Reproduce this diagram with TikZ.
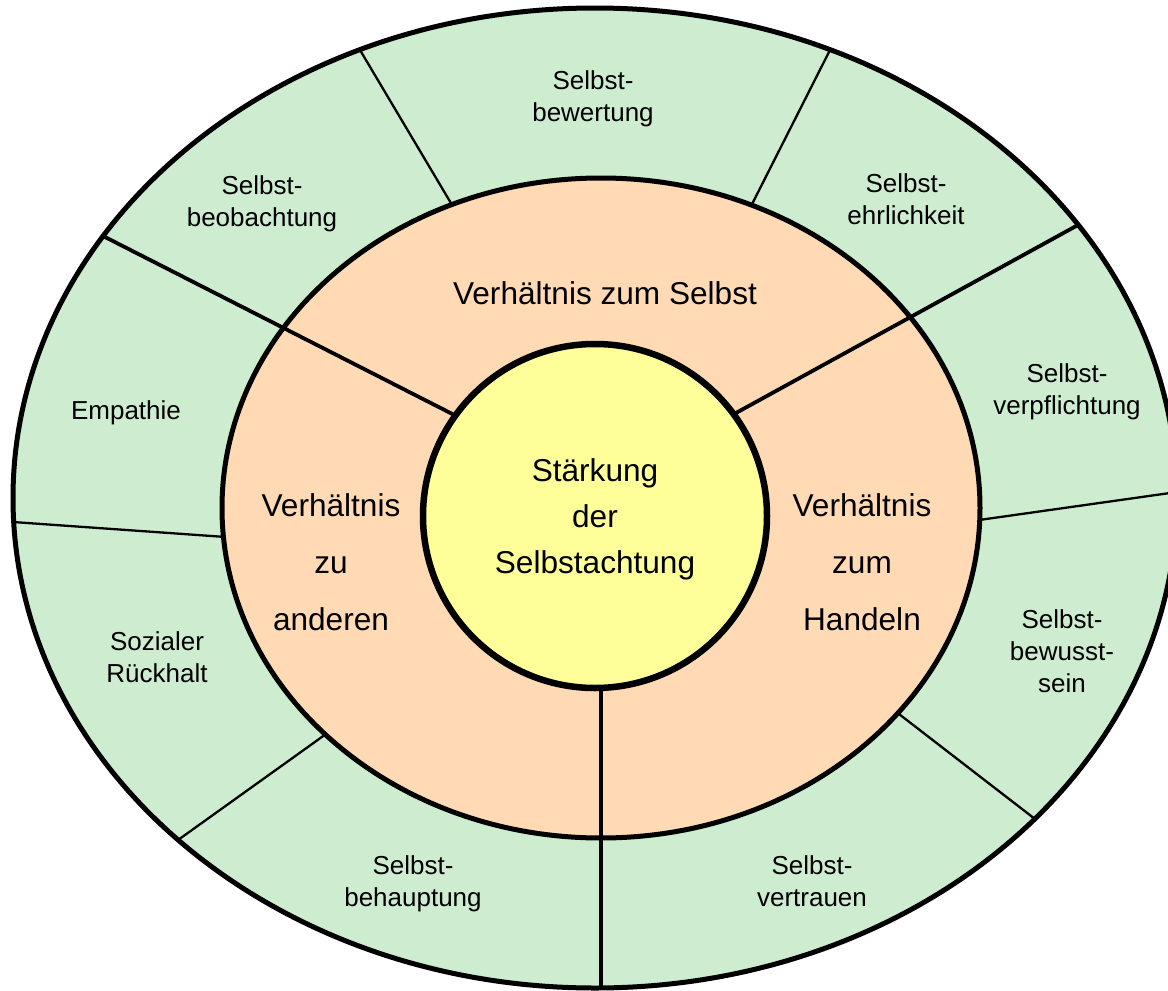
\documentclass[tikz,border=0pt]{standalone}
\usepackage{fontspec}
\setmainfont{Liberation Sans}
\definecolor{ringgreen}{RGB}{206,237,208}
\definecolor{ringpeach}{RGB}{255,218,181}
\definecolor{coreyellow}{RGB}{255,255,153}
\tikzset{
  smalltext/.style={font=\fontsize{26}{32}\selectfont, align=center, inner sep=0pt},
  bigtext/.style={font=\fontsize{31.6}{57}\selectfont, align=center, inner sep=0pt},
  coretext/.style={font=\fontsize{31.6}{46}\selectfont, align=center, inner sep=0pt},
  thindiv/.style={line width=2.3pt},
  thickdiv/.style={line width=3.8pt},
}
\begin{document}
\begin{tikzpicture}[x=1pt,y=-1pt]
  \useasboundingbox (0,0) rectangle (1168,991);
  \fill[white] (0,0) rectangle (1168,991);

  % outer ring
  \fill[ringgreen] (595,498) ellipse [x radius=582, y radius=490];

  % dividers of the outer ring
  \coordinate (o1) at (360,50);    \coordinate (i1) at (461,220);
  \coordinate (o2) at (830,50);    \coordinate (i2) at (745,218);
  \coordinate (o3) at (13,522);    \coordinate (i3) at (240,538);
  \coordinate (o4) at (178,840);   \coordinate (i4) at (340,724);
  \coordinate (o5) at (1035,819);  \coordinate (i5) at (886,704);
  \coordinate (o6) at (1177,492);  \coordinate (i6) at (965,522);
  \foreach \k in {1,...,6} \draw[thindiv] (o\k) -- (i\k);

  % middle ring
  \fill[ringpeach] (601,508) ellipse [x radius=379, y radius=330];

  % main spokes through both rings
  \coordinate (sl) at (105,237);   \coordinate (cl) at (472,424);
  \coordinate (sr) at (1078,225);  \coordinate (cr) at (725,419);
  \coordinate (sb) at (601,990);   \coordinate (cb) at (601,670);
  \draw[thickdiv] (sl) -- (cl);
  \draw[thickdiv] (sr) -- (cr);
  \draw[thickdiv] (sb) -- (cb);

  \draw[line width=5pt] (601,508) ellipse [x radius=379, y radius=330];
  \draw[line width=5pt] (595,498) ellipse [x radius=582, y radius=490];

  % core
  \filldraw[fill=coreyellow, draw=black, line width=6.5pt] (595,516) circle [radius=172];

  % labels of the outer ring
  \node[smalltext] (bewertung) at (593,99) {Selbst-\\bewertung};
  \node[smalltext] (beobachtung) at (262,204) {Selbst-\\beobachtung};
  \node[smalltext] (ehrlichkeit) at (906,199) {Selbst-\\ehrlichkeit};
  \node[smalltext] (empathie) at (126,413) {Empathie};
  \node[smalltext] (verpflichtung) at (1067,392) {Selbst-\\verpflichtung};
  \node[smalltext] (rueckhalt) at (157,657) {Sozialer\\Rückhalt};
  \node[smalltext] (bewusstsein) at (1062,651) {Selbst-\\bewusst-\\sein};
  \node[smalltext] (behauptung) at (413,884) {Selbst-\\behauptung};
  \node[smalltext] (vertrauen) at (812,881) {Selbst-\\vertrauen};

  % labels of the middle ring
  \node[bigtext] (selbst) at (605,293) {Verhältnis zum Selbst};
  \node[bigtext] (anderen) at (331,562) {Verhältnis\\zu\\anderen};
  \node[bigtext] (handeln) at (862,562) {Verhältnis\\zum\\Handeln};

  % core label
  \node[coretext] (core) at (595,519) {Stärkung\\der\\Selbstachtung};
\end{tikzpicture}
\end{document}
